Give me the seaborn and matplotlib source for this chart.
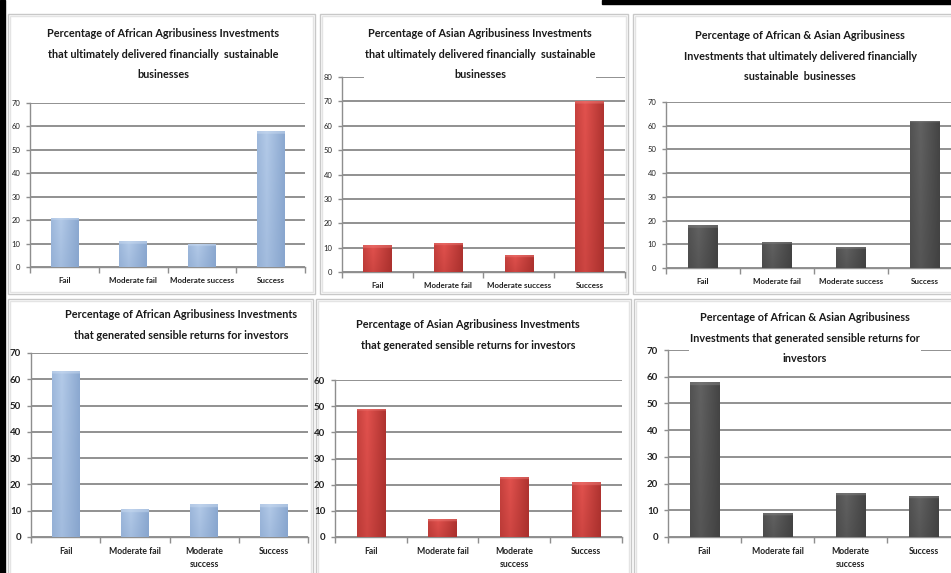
import numpy as np
import pandas as pd
import matplotlib
matplotlib.use("Agg")
import matplotlib.pyplot as plt
import seaborn as sns
from matplotlib import font_manager
from matplotlib.patches import Rectangle
from matplotlib.colors import to_rgb

# ---- data -------------------------------------------------------------
categories_top = ["Fail", "Moderate fail", "Moderate success", "Success"]
categories_bottom = ["Fail", "Moderate fail", "Moderate\nsuccess", "Success"]

africa_sustainable = [21, 11, 10, 58]
asia_sustainable = [11, 12, 7, 70]
combined_sustainable = [18, 11, 9, 62]

africa_returns = [63, 10.5, 12.5, 12.5]
asia_returns = [49, 7, 23, 21]
combined_returns = [58, 9, 16.5, 15.5]

titles = [
    "Percentage of African Agribusiness Investments\nthat ultimately delivered financially  sustainable\nbusinesses",
    "Percentage of Asian Agribusiness Investments\nthat ultimately delivered financially  sustainable\nbusinesses",
    "Percentage of African & Asian Agribusiness\nInvestments that ultimately delivered financially\nsustainable  businesses",
    "Percentage of African Agribusiness Investments\nthat generated sensible returns for investors",
    "Percentage of Asian Agribusiness Investments\nthat generated sensible returns for investors",
    "Percentage of African & Asian Agribusiness\nInvestments that generated sensible returns for\ninvestors",
]

y_max = [70, 80, 70, 70, 60, 70]

# ---- styling ----------------------------------------------------------
sns.set_theme(style="white")
available = {f.name for f in font_manager.fontManager.ttflist}
base_font = next((f for f in ("Liberation Sans Narrow", "Lato", "Liberation Sans")
                  if f in available), "DejaVu Sans")
plt.rcParams["font.family"] = [base_font, "DejaVu Sans"]

palettes = {
    "blue": ("#B3CAE8", "#7E9DC8", "#C9DAF0"),
    "red": ("#E2524E", "#9E2926", "#EE7A76"),
    "gray": ("#626262", "#3A3A3A", "#828282"),
}

W, H = 951, 573
fig = plt.figure(figsize=(W / 100, H / 100), dpi=100)
fig.patch.set_facecolor("white")


def px_axes(x0, x1, ytop, y0):
    """Axes placed by pixel coordinates (y measured from the top)."""
    return fig.add_axes([x0 / W, 1 - y0 / H, (x1 - x0) / W, (y0 - ytop) / H])


def shade_bars(ax, colors):
    light, dark, bevel = (np.array(to_rgb(c)) for c in colors)
    for patch in list(ax.patches):
        x, y = patch.get_x(), patch.get_y()
        w, h = patch.get_width(), patch.get_height()
        if h <= 0:
            continue
        nu, nv = 60, 200
        u = np.linspace(0, 1, nu)[None, :]
        v = np.linspace(1, 0, nv)[:, None]  # top row first
        g = (1 - 0.75 * np.abs(u - 0.35) / 0.65) * (0.7 + 0.3 * v)
        g = np.clip(g, 0, 1)
        img = dark[None, None, :] + (light - dark)[None, None, :] * g[:, :, None]
        # light bevel along the top of each bar
        top_frac = min(0.9, 1.2 / max(h, 1e-6))
        nb = max(1, int(nv * top_frac))
        img[:nb] = 0.5 * img[:nb] + 0.5 * bevel
        im = ax.imshow(img, extent=[x, x + w, y, y + h], aspect="auto",
                       origin="upper", zorder=3, interpolation="bilinear")
        im.set_clip_path(patch)
        patch.set_facecolor("none")
        patch.set_edgecolor("none")


def draw_panel(ax, cats, values, ymax, color, ytick_size, xtick_size, ytick_bold):
    df = pd.DataFrame({"category": cats, "value": values})
    sns.barplot(data=df, x="category", y="value", order=cats, ax=ax,
                width=0.4, color=palettes[color][0], errorbar=None,
                saturation=1, zorder=3)
    shade_bars(ax, palettes[color])
    ax.set_xlim(-0.5, 3.5)
    ax.set_ylim(0, ymax)
    ax.set_yticks(np.arange(0, ymax + 1, 10))
    ax.yaxis.grid(True, color="#888888", linewidth=1.3)
    ax.set_axisbelow(True)
    ax.set_xlabel("")
    ax.set_ylabel("")
    ax.set_facecolor("none")
    for side in ("top", "right"):
        ax.spines[side].set_visible(False)
    for side in ("left", "bottom"):
        ax.spines[side].set_color("#8E8E8E")
        ax.spines[side].set_linewidth(1.0)
    ax.tick_params(axis="y", which="major", length=3, width=1.0,
                   color="#8E8E8E", left=True, pad=4,
                   labelsize=ytick_size, labelcolor="#222222")
    for lab in ax.get_yticklabels():
        lab.set_fontweight("bold" if ytick_bold else "normal")
    ax.set_xticks(np.arange(4))
    ax.set_xticklabels(cats, fontsize=xtick_size, fontweight="bold",
                       color="#222222", linespacing=1.6)
    ax.tick_params(axis="x", which="major", length=0, pad=7)
    ax.set_xticks(np.arange(-0.5, 4.0, 1.0), minor=True)
    ax.tick_params(axis="x", which="minor", length=4, width=1.0,
                   color="#8E8E8E", bottom=True)


# ---- panel frames -------------------------------------------------------
frames = [
    (8, 14, 315, 294), (320, 14, 628, 294), (633, 14, 960, 294),
    (8, 299, 313, 580), (316, 299, 631, 580), (634, 299, 960, 580),
]
for (x0, y0, x1, y1) in frames:
    for off, col in ((0, "#C8C8C8"), (2, "#E4E4E4")):
        fig.add_artist(Rectangle(((x0 + off) / W, 1 - (y1 - off) / H),
                                 (x1 - x0 - 2 * off) / W, (y1 - y0 - 2 * off) / H,
                                 transform=fig.transFigure, fill=False,
                                 edgecolor=col, linewidth=1.0, zorder=0))

# page edges
fig.add_artist(Rectangle((0, 0), 5 / W, 1, transform=fig.transFigure,
                         color="black", zorder=5))
fig.add_artist(Rectangle((602 / W, 1 - 4 / H), (W - 602) / W, 4 / H,
                         transform=fig.transFigure, color="black", zorder=5))

# ---- charts -------------------------------------------------------------
layout = [
    # (x0, x1, ytop, y0) in pixels, title centre (x, y)
    ((30, 305, 103, 267), (163, 54)),
    ((342, 625, 77, 272), (480, 54)),
    ((666, 962, 102, 268), (800, 56)),
    ((31, 308, 353, 537), (181, 325)),
    ((335, 622, 380, 537), (468, 335)),
    ((668, 960, 350, 537), (805, 338)),
]
series = [africa_sustainable, asia_sustainable, combined_sustainable,
          africa_returns, asia_returns, combined_returns]
colors = ["blue", "red", "gray", "blue", "red", "gray"]

for i, ((x0, x1, yt, yb), (tx, ty)) in enumerate(layout):
    ax = px_axes(x0, x1, yt, yb)
    top_row = i < 3
    cats = categories_top if top_row else categories_bottom
    draw_panel(ax, cats, series[i], y_max[i], colors[i],
               ytick_size=5.5 if top_row else 7.0,
               xtick_size=5.8 if top_row else 6.2,
               ytick_bold=not top_row)
    fig.text(tx / W, 1 - ty / H, titles[i], ha="center", va="center",
             multialignment="center", fontsize=7.8, fontweight="bold",
             color="#1A1A1A", linespacing=2.05, zorder=6,
             bbox=dict(facecolor="white", edgecolor="none", pad=0.5))

fig.savefig("out.png", dpi=100, facecolor="white")
